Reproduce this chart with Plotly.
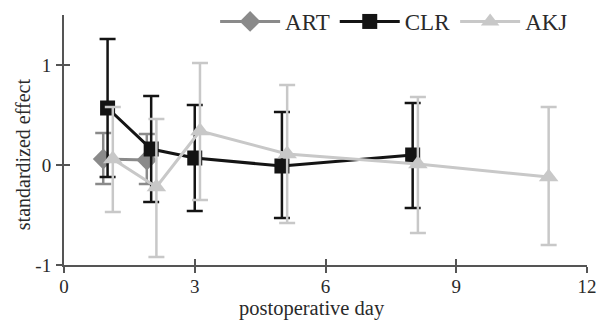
import plotly.graph_objects as go

# ---- data ----
art_days = [1, 2]
art_mean = [0.06, 0.05]
art_err_plus = [0.26, 0.26]
art_err_minus = [0.25, 0.24]

clr_days = [1, 2, 3, 5, 8]
clr_mean = [0.57, 0.16, 0.07, -0.01, 0.10]
clr_err_plus = [0.69, 0.53, 0.53, 0.54, 0.52]
clr_err_minus = [0.69, 0.53, 0.53, 0.52, 0.53]

akj_days = [1, 2, 3, 5, 8, 11]
akj_mean = [0.06, -0.22, 0.34, 0.11, 0.01, -0.12]
akj_err_plus = [0.52, 0.68, 0.68, 0.69, 0.67, 0.70]
akj_err_minus = [0.53, 0.70, 0.69, 0.69, 0.69, 0.68]

x_ticks = [0, 3, 6, 9, 12]
y_ticks = [-1, 0, 1]
x_title = "postoperative day"
y_title = "standardized effect"

# ---- style ----
dodge = {"ART": -0.1, "CLR": 0.0, "AKJ": 0.12}
FONT = "Liberation Serif, Times New Roman, serif"
AXIS_COLOR = "#555555"
TXT = "#2a2a2a"

series = [
    ("ART", art_days, art_mean, art_err_plus, art_err_minus, "#8a8a8a", "diamond", 16),
    ("CLR", clr_days, clr_mean, clr_err_plus, clr_err_minus, "#141414", "square", 15),
    ("AKJ", akj_days, akj_mean, akj_err_plus, akj_err_minus, "#c8c8c8", "triangle-up", 17),
]

fig = go.Figure()
for name, days, mean, ep, em, color, symbol, size in series:
    fig.add_trace(go.Scatter(
        x=[d + dodge[name] for d in days], y=mean, name=name,
        mode="lines+markers",
        line=dict(color=color, width=3),
        marker=dict(color=color, symbol=symbol, size=size),
        error_y=dict(type="data", symmetric=False, array=ep, arrayminus=em,
                     color=color, thickness=2.5, width=8),
    ))

# invisible trace on overlay axes to draw the inner half of the ticks
fig.add_trace(go.Scatter(x=[], y=[], xaxis="x2", yaxis="y2", showlegend=False, hoverinfo="skip"))

axis_common = dict(showgrid=False, zeroline=False, showline=True, linecolor=AXIS_COLOR,
                   linewidth=2, ticks="outside", ticklen=6, tickwidth=1.5, tickcolor=AXIS_COLOR,
                   automargin=False, ticklabeloverflow="allow",
                   tickfont=dict(family=FONT, size=19, color=TXT))

fig.update_layout(
    width=597, height=324,
    margin=dict(l=64, r=10, t=15, b=59, autoexpand=False),
    paper_bgcolor="white", plot_bgcolor="white",
    font=dict(family=FONT, color=TXT),
    showlegend=True,
    legend=dict(orientation="h", xref="container", yref="container",
                x=0.96, xanchor="right", y=1.0, yanchor="top",
                font=dict(family=FONT, size=23, color=TXT),
                itemwidth=60, bgcolor="rgba(0,0,0,0)"),
    xaxis=dict(range=[0, 12], tickvals=x_ticks, ticktext=[str(v) for v in x_ticks],
               ticklabelstandoff=-3, **axis_common),
    yaxis=dict(range=[-1, 1.5], tickvals=y_ticks, ticktext=[str(v) for v in y_ticks],
               ticklabelstandoff=1, **axis_common),
    xaxis2=dict(overlaying="x", range=[0, 12], tickvals=x_ticks, showticklabels=False,
                ticks="inside", ticklen=6, tickwidth=1.5, tickcolor=AXIS_COLOR,
                showgrid=False, zeroline=False, showline=False, side="bottom", anchor="y2"),
    yaxis2=dict(overlaying="y", range=[-1, 1.5], tickvals=y_ticks, showticklabels=False,
                ticks="inside", ticklen=6, tickwidth=1.5, tickcolor=AXIS_COLOR,
                showgrid=False, zeroline=False, showline=False, side="left", anchor="x2"),
    annotations=[
        dict(text=x_title, xref="paper", yref="paper", x=0.475, y=-0.175,
             xanchor="center", yanchor="middle", showarrow=False,
             font=dict(family=FONT, size=20.5, color=TXT)),
        dict(text=y_title, xref="paper", yref="paper", x=-0.078, y=0.444,
             xanchor="center", yanchor="middle", showarrow=False, textangle=-90,
             font=dict(family=FONT, size=20, color=TXT)),
    ],
)

fig.write_html("out.html", config={"displayModeBar": False},
               post_script="document.body.style.margin='0px';")
